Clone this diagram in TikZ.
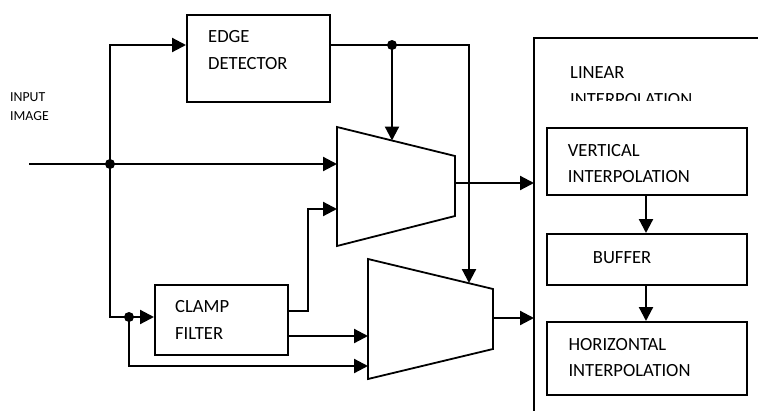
\documentclass[tikz,border=0pt]{standalone}
\usepackage{fontspec}
\setmainfont{Carlito}
\usetikzlibrary{arrows.meta}
\begin{document}
\begin{tikzpicture}[x=1pt,y=-1pt,
  wire/.style={line width=2.2pt},
  arr/.style={wire,-{Triangle[length=14pt,width=14pt]}},
  blk/.style={draw,line width=1.8pt,inner sep=0pt,anchor=north west},
  txt/.style={anchor=base west,inner sep=0pt,font=\fontsize{18.6}{22}\selectfont},
  smalltxt/.style={anchor=base west,inner sep=0pt,font=\fontsize{13.8}{16}\selectfont},
  mux/.style={draw,line width=1.8pt,line join=miter},
  dot/.style={fill=black}]
\useasboundingbox (0,0) rectangle (758,410);

% blocks
\node[blk,minimum width=143pt,minimum height=87pt] (edge) at (186,14) {};
\node[blk,minimum width=133pt,minimum height=70pt] (clamp) at (154,284) {};
\node[blk,minimum width=200pt,minimum height=67pt] (vert) at (546,127) {};
\node[blk,minimum width=200pt,minimum height=51pt] (buf) at (546,233) {};
\node[blk,minimum width=200pt,minimum height=73pt] (horiz) at (546,321) {};

% linear interpolation container (cut off by page edges)
\coordinate (lib) at (534,412);
\coordinate (litl) at (534,38);
\coordinate (litr) at (760,38);
\draw[line width=1.8pt] (lib) -- (litl) -- (litr);

% texts
\node[txt] (t1) at (208,42.7) {EDGE};
\node[txt] (t2) at (208,69.3) {DETECTOR};
\node[txt] (t3) at (175,312.3) {CLAMP};
\node[txt] (t4) at (175,339) {FILTER};
\node[smalltxt] (t5) at (10,101.7) {INPUT};
\node[smalltxt] (t6) at (10,120.7) {IMAGE};
\node[txt] (t7) at (570,78.7) {LINEAR};
\begin{scope}
  \clip (560,85) rectangle (730,100);
  \node[txt] (t8) at (570,105) {INTERPOLATION};
\end{scope}
\node[txt] (t9) at (567.7,156) {VERTICAL};
\node[txt] (t10) at (567.7,182.3) {INTERPOLATION};
\node[txt] (t11) at (592.7,263.5) {BUFFER};
\node[txt] (t12) at (568.3,350) {HORIZONTAL};
\node[txt] (t13) at (568.3,376) {INTERPOLATION};

% multiplexers
\coordinate (m1a) at (337,127); \coordinate (m1b) at (455,156);
\coordinate (m1c) at (455,216); \coordinate (m1d) at (337,246);
\draw[mux] (m1a) -- (m1b) -- (m1c) -- (m1d) -- cycle;
\coordinate (m2a) at (368,259); \coordinate (m2b) at (493,289);
\coordinate (m2c) at (493,349); \coordinate (m2d) at (368,379);
\draw[mux] (m2a) -- (m2b) -- (m2c) -- (m2d) -- cycle;

% junctions and ports
\coordinate (in) at (29,164);
\coordinate (j1) at (110,164);
\coordinate (j2) at (129,317);
\coordinate (j3) at (392,45);
\coordinate (m1in1) at (337,164);
\coordinate (m1in2) at (337,209);
\coordinate (m1top) at (392,140.5);
\coordinate (m2in1) at (368,336);
\coordinate (m2in2) at (368,366);
\coordinate (m2top) at (469,283);
\coordinate (m1out) at (455,183);
\coordinate (m2out) at (493,318);

% connectors
\draw[arr] (in) -- (m1in1);
\draw[arr] (j1) |- (edge.west |- 0,45);
\draw[wire] (j1) |- (j2);
\draw[arr] (j2) -- (clamp.west |- j2);
\draw[arr] (j2) |- (m2in2);
\draw[arr] (clamp.east |- 0,311) -| (308,260) |- (m1in2);
\draw[arr] (clamp.east |- m2in1) -- (m2in1);
\draw[wire] (edge.east |- j3) -- (j3);
\draw[arr] (j3) -| (m2top);
\draw[arr] (j3) -- (m1top);
\draw[arr] (m1out) -- (litl |- m1out);
\draw[arr] (m2out) -- (litl |- m2out);
\draw[arr] (vert.south -| 646,0) -- (buf.north -| 646,0);
\draw[arr] (buf.south -| 646,0) -- (horiz.north -| 646,0);

\fill[dot] (j1) circle (5pt);
\fill[dot] (j2) circle (5pt);
\fill[dot] (j3) circle (5pt);
\end{tikzpicture}
\end{document}
